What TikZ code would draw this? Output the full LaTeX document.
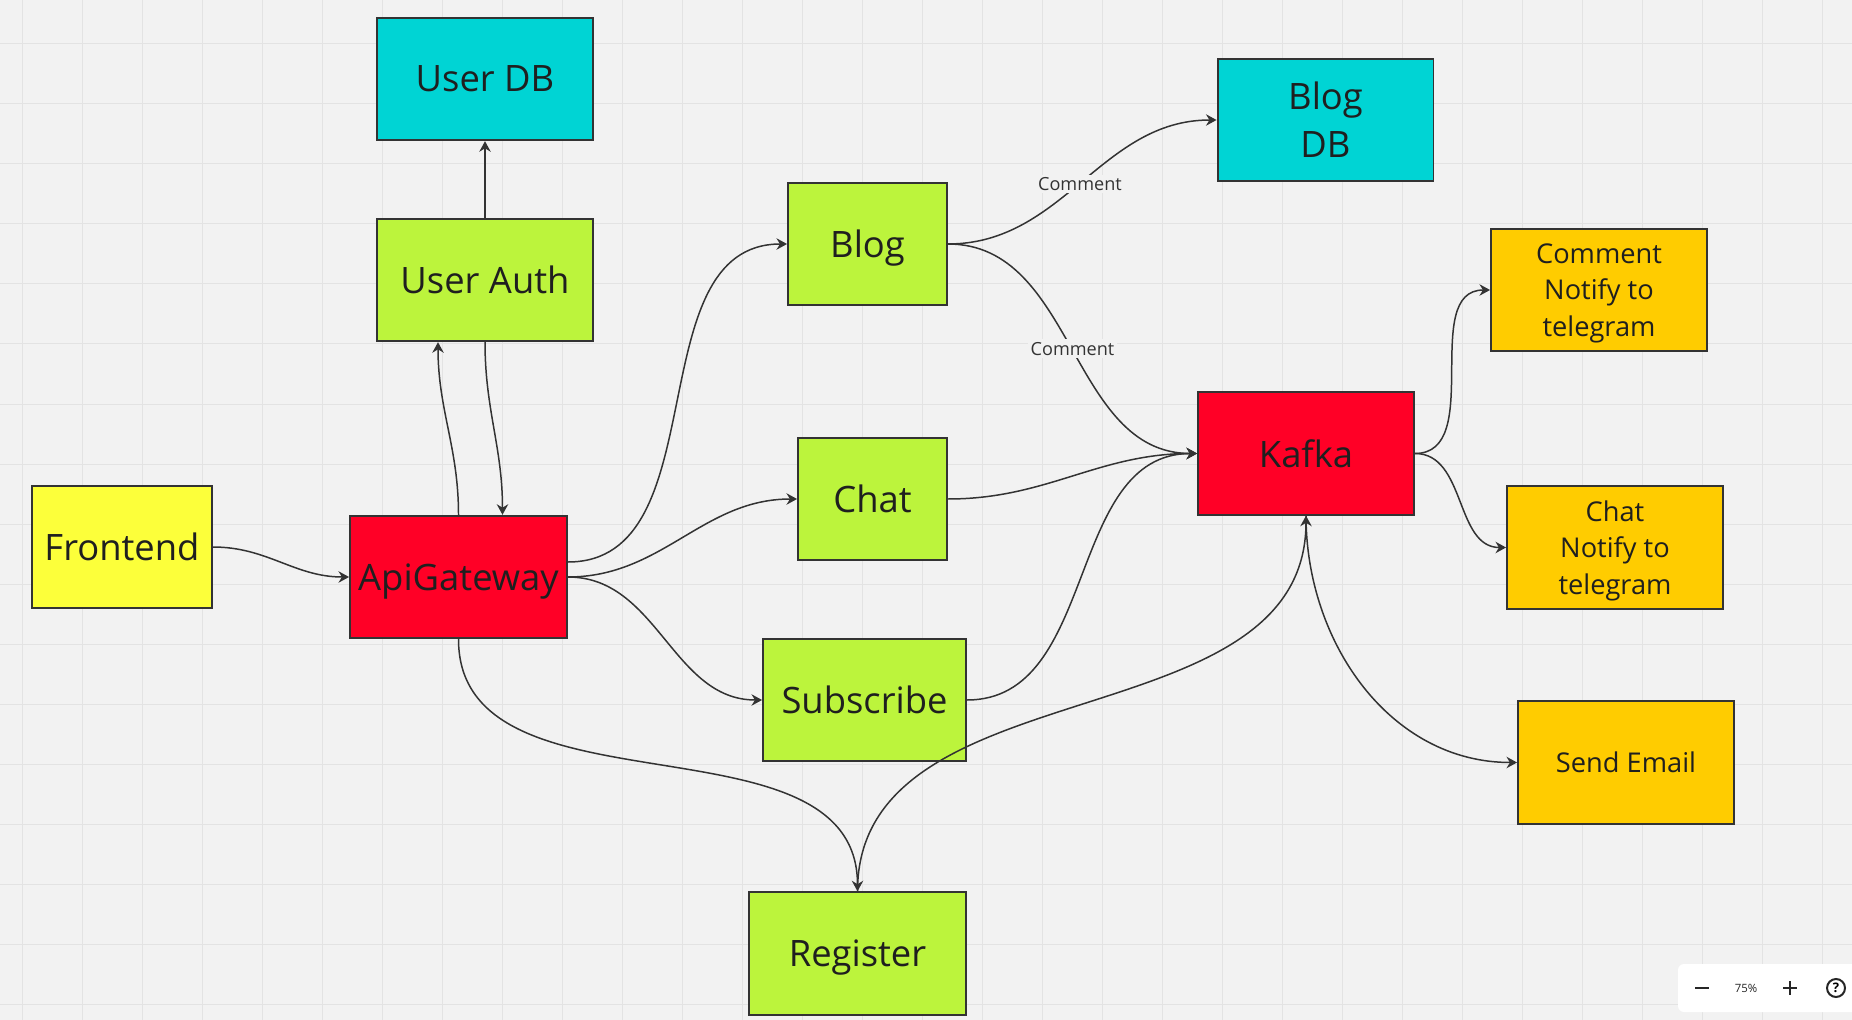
\documentclass[tikz,border=0pt]{standalone}
\usepackage{fontspec}
\setmainfont{Open Sans}
\usetikzlibrary{arrows.meta,positioning}

\definecolor{canvas}{HTML}{F2F2F2}
\definecolor{gridgray}{HTML}{E3E3E3}
\definecolor{edge}{HTML}{333333}
\definecolor{dbcyan}{HTML}{00D4D4}
\definecolor{svcgreen}{HTML}{BCF43C}
\definecolor{feyellow}{HTML}{FCFF3A}
\definecolor{hubred}{HTML}{FF0026}
\definecolor{notifyorange}{HTML}{FFCC00}

\tikzset{
	svcbox/.style={draw=edge, line width=1.1pt, text=black!88,
			minimum height=2.45cm, inner sep=0pt, align=center, text depth=0pt,
			font=\fontsize{20.7}{27.5}\selectfont},
	taskbox/.style={svcbox, font=\fontsize{15.5}{20.8}\selectfont},
	link/.style={draw=edge, line width=0.85pt, -{Stealth[length=6pt,width=6.5pt]}},
	linklabel/.style={fill=canvas, text=edge, inner sep=1.5pt,
			font=\fontsize{10.3}{12}\selectfont}
}

\begin{document}
\begin{tikzpicture}[x=0.02cm,y=-0.02cm]

\pgfmathsetmacro{\pagew}{1852}
\pgfmathsetmacro{\pageh}{1020}

% CANVAS
\useasboundingbox (0,0) rectangle (\pagew,\pageh);
\fill[canvas] (0,0) rectangle (\pagew,\pageh);
\foreach \gx in {22,82,...,1852}
	\draw[gridgray, line width=0.02cm] (\gx,0) -- (\gx,\pageh);
\foreach \gy in {44,104,...,1020}
	\draw[gridgray, line width=0.02cm] (0,\gy) -- (\pagew,\gy);

% BOXES
%databases
\node(userdb)[svcbox, fill=dbcyan, minimum width=4.32cm] at (485,79) {User DB};
\node(blogdb)[svcbox, fill=dbcyan, minimum width=4.32cm] at (1325.5,120) {Blog\\DB};

%services
\node(frontend)[svcbox, fill=feyellow, minimum width=3.6cm] at (122,547) {Frontend};
\node(apigw)[svcbox, fill=hubred, minimum width=4.34cm] at (458.5,577) {ApiGateway};
\node(userauth)[svcbox, fill=svcgreen, minimum width=4.32cm] at (485,280) {User Auth};
\node(blog)[svcbox, fill=svcgreen, minimum width=3.18cm] at (867.5,244) {Blog};
\node(chat)[svcbox, fill=svcgreen, minimum width=2.98cm] at (872.5,499) {Chat};
\node(subscribe)[svcbox, fill=svcgreen, minimum width=4.06cm] at (864.5,700) {Subscribe};
\node(register)[svcbox, fill=svcgreen, minimum width=4.34cm] at (857.5,953.5) {Register};
\node(kafka)[svcbox, fill=hubred, minimum width=4.32cm] at (1306,453.5) {Kafka};

%consumers
\node(cmtnotify)[taskbox, fill=notifyorange, minimum width=4.32cm] at (1599,290) {Comment\\Notify to\\telegram};
\node(chatnotify)[taskbox, fill=notifyorange, minimum width=4.32cm] at (1615,547.5) {Chat\\Notify to\\telegram};
\node(sendmail)[taskbox, fill=notifyorange, minimum width=4.32cm] at (1626,762.5) {Send Email};

% LINKS
\draw[link] (frontend.east) to[out=0,in=180] (apigw.west);
\draw[link] (apigw.north) to[out=90,in=-90] ([xshift=-0.94cm]userauth.south);
\draw[link] (userauth.south) to[out=-90,in=90] ([xshift=0.88cm]apigw.north);
\draw[link] (userauth.north) -- (userdb.south);

\draw[link] ([yshift=0.3cm]apigw.east) to[out=0,in=180] (blog.west);
\draw[link] (apigw.east) to[out=0,in=180] (chat.west);
\draw[link] (apigw.east) to[out=0,in=180] (subscribe.west);
\draw[link] (apigw.south) to[out=-90,in=90] (register.north);

\draw[link] (blog.east) to[out=0,in=180] node[linklabel, pos=0.49]{Comment} (blogdb.west);
\draw[link] (blog.east) to[out=0,in=180] node[linklabel, pos=0.5]{Comment} (kafka.west);
\draw[link] (chat.east) to[out=0,in=180] (kafka.west);
\draw[link] (subscribe.east) to[out=0,in=180] (kafka.west);
\draw[link] (register.north) to[out=90,in=-90] (kafka.south);

\draw[link] (kafka.east) to[out=0,in=180] (cmtnotify.west);
\draw[link] (kafka.east) to[out=0,in=180] (chatnotify.west);
\draw[link] (kafka.south) to[out=-90,in=180] (sendmail.west);

% ZOOM WIDGET
\fill[white, rounded corners=0.12cm] (1678,964) rectangle (1875,1012);
\draw[black!85, line width=0.045cm] (1695,988) -- (1709,988);
\node(zoomlevel)[text=black!85, font=\fontsize{6.5}{8}\selectfont] at (1746,988) {75\%};
\draw[black!85, line width=0.045cm] (1783,988) -- (1797,988) (1790,981) -- (1790,995);
\node(helpmark)[draw=black!85, line width=0.04cm, circle, minimum size=0.36cm, inner sep=0pt,
			font=\fontsize{7.5}{8}\selectfont\bfseries] at (1836,988) {?};

\end{tikzpicture}
\end{document}
